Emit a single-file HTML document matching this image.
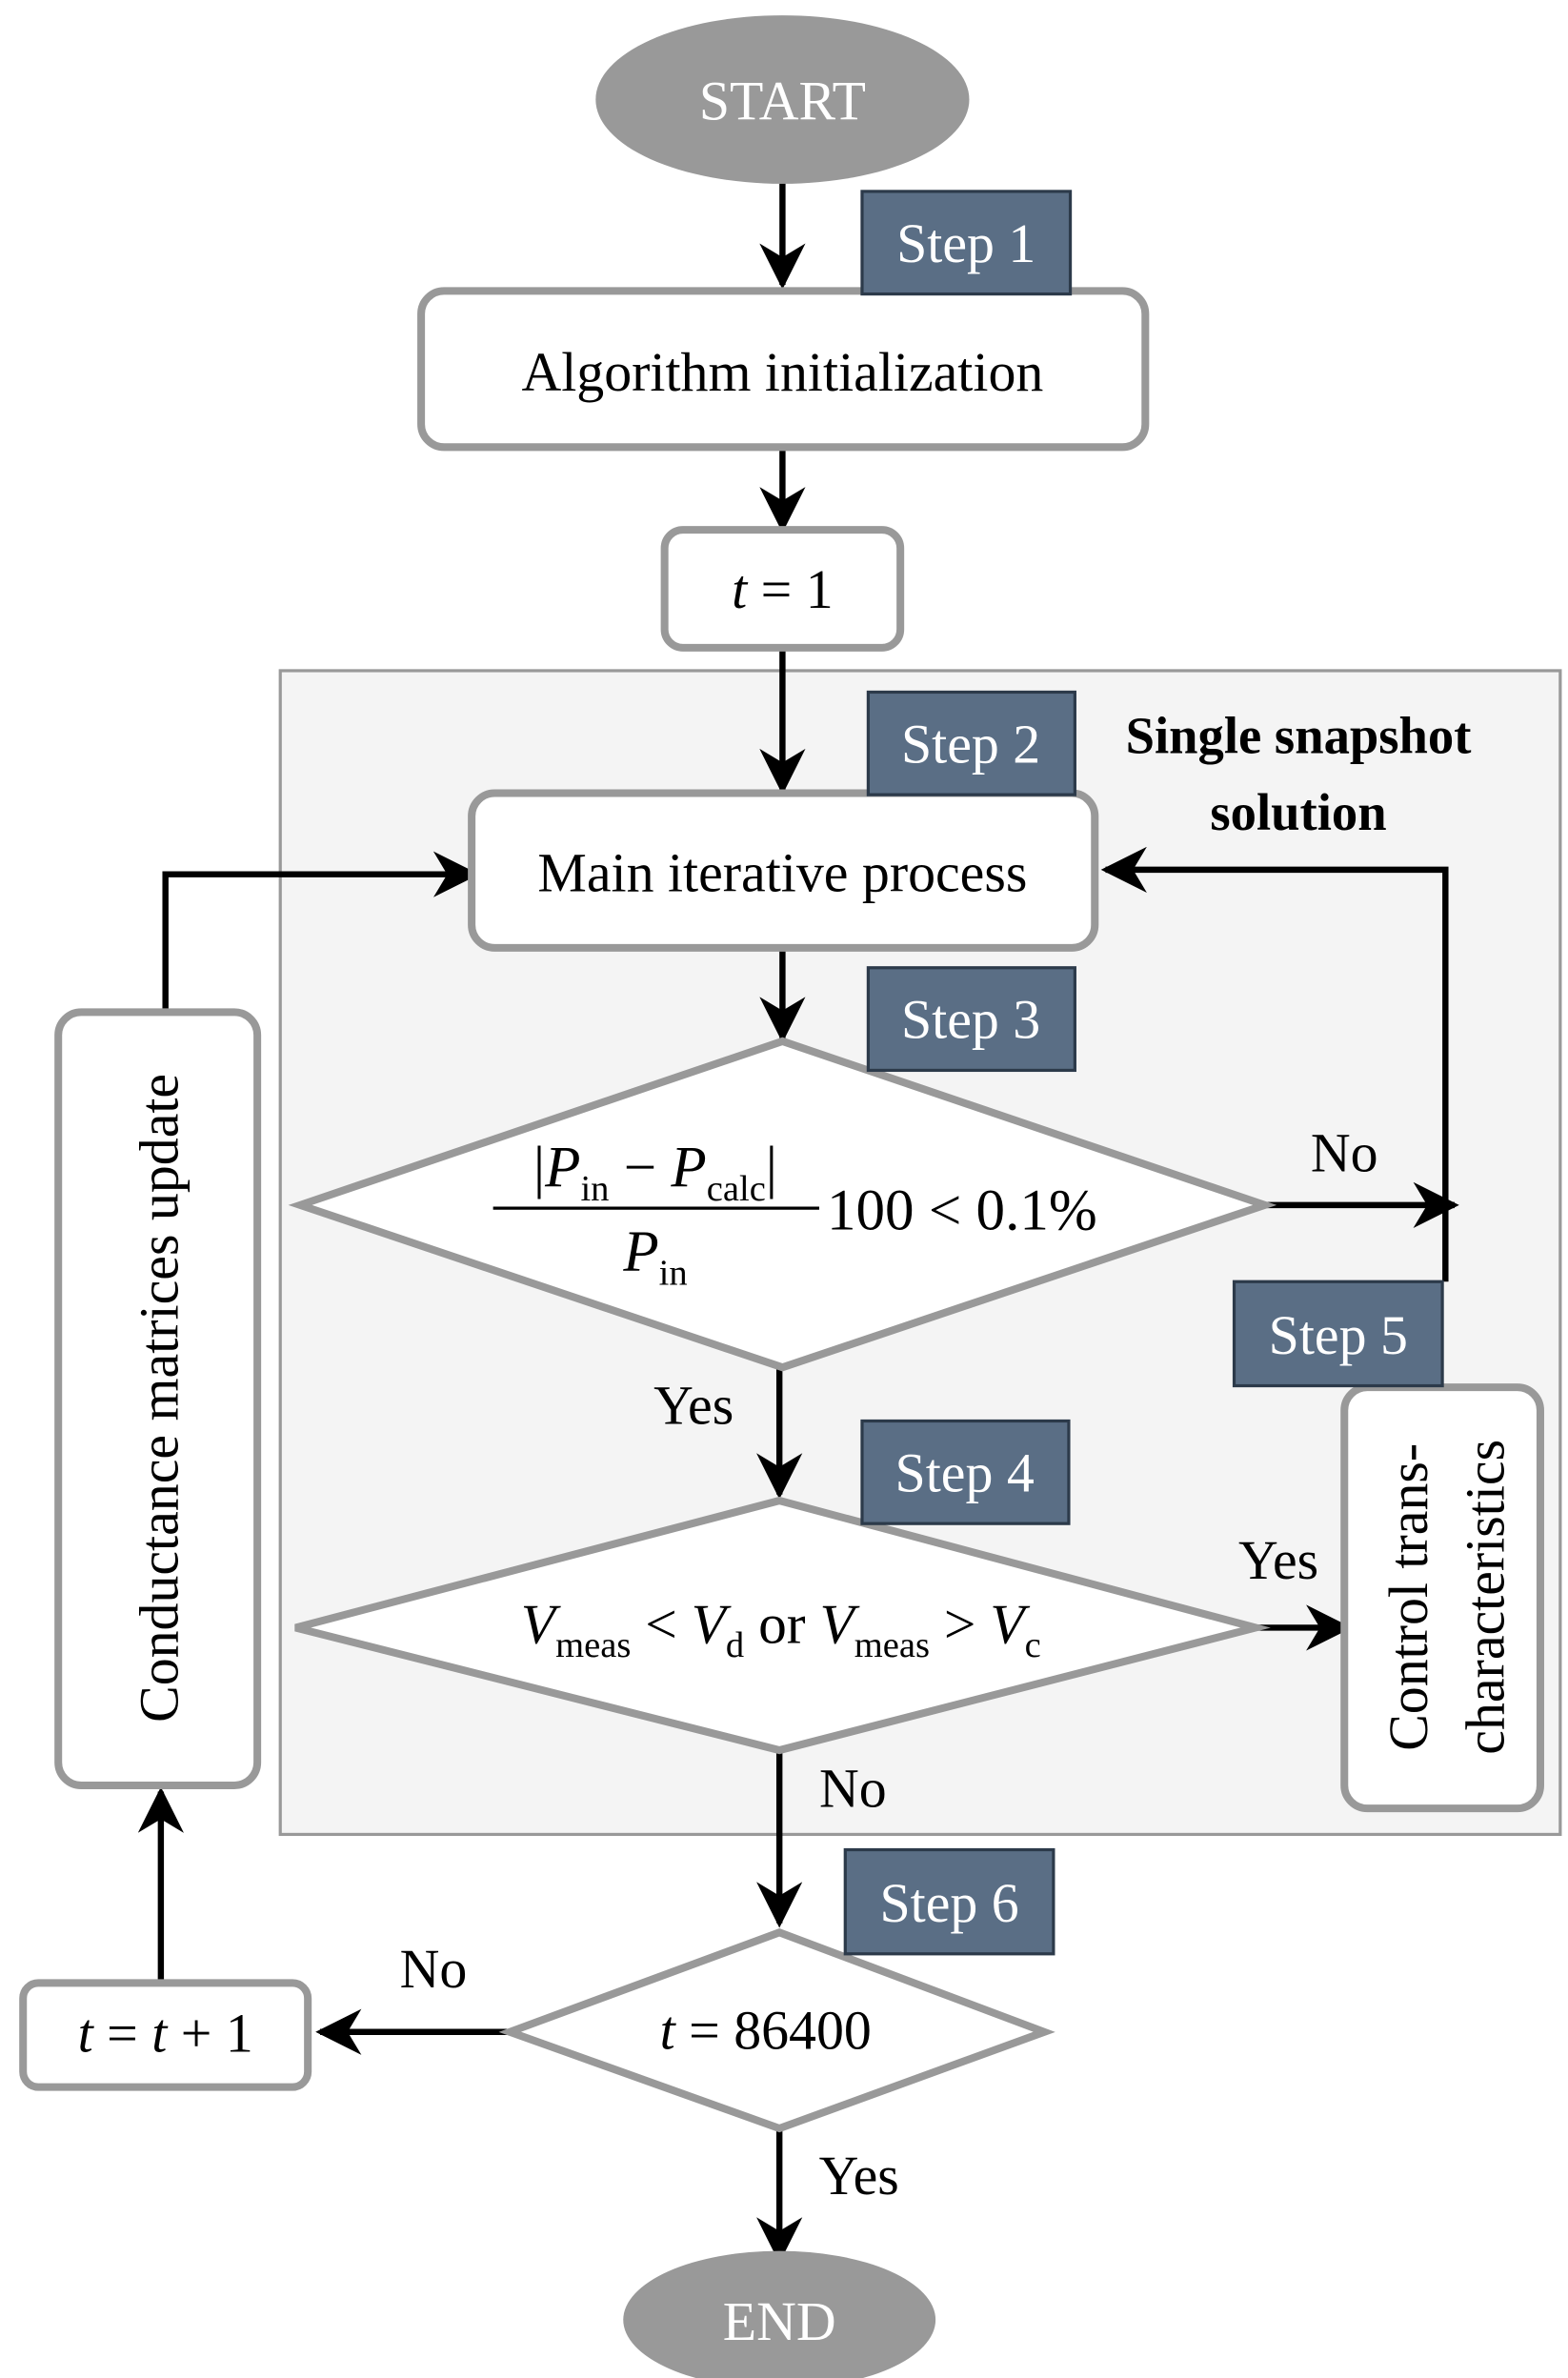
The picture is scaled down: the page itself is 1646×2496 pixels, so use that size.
<!DOCTYPE html>
<html><head><meta charset="utf-8"><style>
html,body{margin:0;padding:0;background:#fff;}
svg{display:block;}
text{font-family:"Liberation Serif","DejaVu Serif",serif;}
</style></head><body>
<svg width="1646" height="2496" viewBox="0 0 1024 1553" xmlns="http://www.w3.org/2000/svg">
<defs>
<marker id="a" viewBox="0 0 10 10" markerWidth="30" markerHeight="30" refX="9" refY="5" orient="auto" markerUnits="userSpaceOnUse">
<path d="M0,0 L10,5 L0,10 L3,5 Z" fill="#000"/>
</marker>
</defs>
<rect width="1024" height="1553" fill="#fff"/>
<rect x="183" y="438" width="836" height="760" fill="#f4f4f4" stroke="#999" stroke-width="2"/>

<ellipse cx="511" cy="65" rx="122" ry="55" fill="#999"/>
<text x="511" y="78" font-size="36" fill="#fff" text-anchor="middle">START</text>

<g stroke="#000" stroke-width="4" fill="none">
<line x1="511" y1="120" x2="511" y2="186" marker-end="url(#a)"/>
<line x1="511" y1="293" x2="511" y2="345" marker-end="url(#a)"/>
<line x1="511" y1="424" x2="511" y2="516" marker-end="url(#a)"/>
<line x1="511" y1="620" x2="511" y2="678" marker-end="url(#a)"/>
<line x1="826" y1="787" x2="950" y2="787" marker-end="url(#a)"/>
<polyline points="944,837 944,568 722,568" marker-end="url(#a)"/>
<line x1="509" y1="893" x2="509" y2="976" marker-end="url(#a)"/>
<line x1="812" y1="1063" x2="880" y2="1063" marker-end="url(#a)"/>
<line x1="509" y1="1143" x2="509" y2="1256" marker-end="url(#a)"/>
<line x1="333" y1="1327" x2="209" y2="1327" marker-end="url(#a)"/>
<line x1="105" y1="1294" x2="105" y2="1170" marker-end="url(#a)"/>
<polyline points="108,661 108,571 310,571" marker-end="url(#a)"/>
<line x1="509" y1="1390" x2="509" y2="1475" marker-end="url(#a)"/>
</g>

<g fill="#fff" stroke="#999" stroke-width="5">
<rect x="275" y="190" width="473" height="102" rx="15"/>
<rect x="434" y="346" width="154" height="77" rx="12"/>
<rect x="308" y="518" width="407" height="101" rx="15"/>
<rect x="878" y="906" width="128" height="275" rx="15"/>
<rect x="15" y="1295" width="186" height="68" rx="10"/>
<rect x="38" y="661" width="130" height="505" rx="15"/>
<polygon points="196,787 511,680 826,787 511,893"/>
<polygon points="193,1063 509,980 820,1063 509,1143"/>
<polygon points="333,1327 509,1262 682,1327 509,1390"/>
</g>

<g fill="#5a6e85" stroke="#2c3a4a" stroke-width="2">
<rect x="563" y="125" width="136" height="67"/>
<rect x="567" y="452" width="135" height="67"/>
<rect x="567" y="632" width="135" height="67"/>
<rect x="563" y="928" width="135" height="67"/>
<rect x="806" y="837" width="136" height="68"/>
<rect x="552" y="1208" width="136" height="68"/>
</g>
<g fill="#fff" font-size="36" text-anchor="middle">
<text x="631" y="171">Step 1</text>
<text x="634" y="498">Step 2</text>
<text x="634" y="678">Step 3</text>
<text x="630" y="974">Step 4</text>
<text x="874" y="884">Step 5</text>
<text x="620" y="1255">Step 6</text>
</g>

<g font-size="36" text-anchor="middle" fill="#000">
<text x="511" y="255">Algorithm initialization</text>
<text x="511" y="397"><tspan font-style="italic">t</tspan> = 1</text>
<text x="511" y="582">Main iterative process</text>
<text x="848" y="492" font-weight="bold" font-size="34">Single snapshot</text>
<text x="848" y="542" font-weight="bold" font-size="34">solution</text>
<text x="878" y="765">No</text>
<text x="453" y="930">Yes</text>
<text x="835" y="1031">Yes</text>
<text x="557" y="1180">No</text>
<text x="283" y="1298">No</text>
<text x="561" y="1433">Yes</text>
<text x="108" y="1340"><tspan font-style="italic">t</tspan> = <tspan font-style="italic">t</tspan> + 1</text>
<text x="500" y="1338"><tspan font-style="italic">t</tspan> = 86400</text>
<text x="428" y="775" font-size="38">|<tspan font-style="italic">P</tspan><tspan font-size="24" dy="9">in</tspan><tspan dy="-9"> − </tspan><tspan font-style="italic">P</tspan><tspan font-size="24" dy="9">calc</tspan><tspan dy="-9">|</tspan></text>
<line x1="322" y1="789" x2="535" y2="789" stroke="#000" stroke-width="2"/>
<text x="428" y="830" font-size="38"><tspan font-style="italic">P</tspan><tspan font-size="24" dy="9">in</tspan></text>
<text x="540" y="803" font-size="38" text-anchor="start">100 &lt; 0.1%</text>
<text x="510" y="1073" font-size="37"><tspan font-style="italic">V</tspan><tspan font-size="24" dy="9">meas</tspan><tspan dy="-9"> &lt; </tspan><tspan font-style="italic">V</tspan><tspan font-size="24" dy="9">d</tspan><tspan dy="-9"> or </tspan><tspan font-style="italic">V</tspan><tspan font-size="24" dy="9">meas</tspan><tspan dy="-9"> &gt; </tspan><tspan font-style="italic">V</tspan><tspan font-size="24" dy="9">c</tspan></text>
<text transform="translate(116,913) rotate(-90)" x="0" y="0">Conductance matrices update</text>
<text transform="translate(932,1043) rotate(-90)" x="0" y="0">Control trans-</text>
<text transform="translate(982,1043) rotate(-90)" x="0" y="0">characteristics</text>
</g>

<ellipse cx="509" cy="1515" rx="102" ry="45" fill="#999"/>
<text x="509" y="1528" font-size="36" fill="#fff" text-anchor="middle">END</text>
</svg>
</body></html>
